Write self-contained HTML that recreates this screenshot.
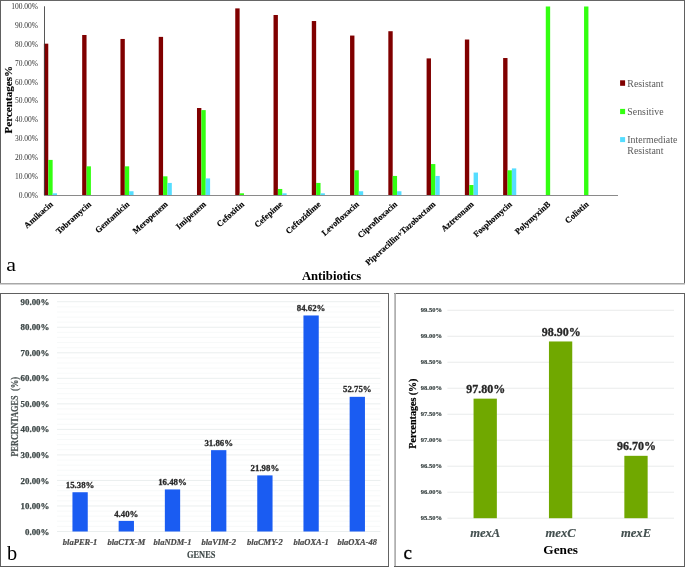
<!DOCTYPE html>
<html><head><meta charset="utf-8"><style>
html,body{margin:0;padding:0;background:#fff;}
body{width:685px;height:567px;overflow:hidden;}
svg{display:block;will-change:transform;}
text{font-family:"Liberation Serif",serif;}
</style></head><body>
<svg width="685" height="567" viewBox="0 0 685 567">
<rect x="0" y="0" width="685" height="567" fill="#fff"/>
<line x1="0.00" y1="0.50" x2="685.00" y2="0.50" stroke="#666" stroke-width="1"/>
<line x1="0.50" y1="0.00" x2="0.50" y2="284.00" stroke="#606060" stroke-width="1"/>
<line x1="684.50" y1="0.00" x2="684.50" y2="284.00" stroke="#606060" stroke-width="1"/>
<line x1="0.00" y1="283.80" x2="685.00" y2="283.80" stroke="#a8a8a8" stroke-width="1.6"/>
<text id="at0" x="38.00" y="197.80" font-size="7.5" fill="#333" font-weight="normal" font-style="normal" text-anchor="end" >0.00%</text>
<text id="at1" x="38.00" y="178.93" font-size="7.5" fill="#333" font-weight="normal" font-style="normal" text-anchor="end" >10.00%</text>
<text id="at2" x="38.00" y="160.06" font-size="7.5" fill="#333" font-weight="normal" font-style="normal" text-anchor="end" >20.00%</text>
<text id="at3" x="38.00" y="141.19" font-size="7.5" fill="#333" font-weight="normal" font-style="normal" text-anchor="end" >30.00%</text>
<text id="at4" x="38.00" y="122.32" font-size="7.5" fill="#333" font-weight="normal" font-style="normal" text-anchor="end" >40.00%</text>
<text id="at5" x="38.00" y="103.45" font-size="7.5" fill="#333" font-weight="normal" font-style="normal" text-anchor="end" >50.00%</text>
<text id="at6" x="38.00" y="84.58" font-size="7.5" fill="#333" font-weight="normal" font-style="normal" text-anchor="end" >60.00%</text>
<text id="at7" x="38.00" y="65.71" font-size="7.5" fill="#333" font-weight="normal" font-style="normal" text-anchor="end" >70.00%</text>
<text id="at8" x="38.00" y="46.84" font-size="7.5" fill="#333" font-weight="normal" font-style="normal" text-anchor="end" >80.00%</text>
<text id="at9" x="38.00" y="27.97" font-size="7.5" fill="#333" font-weight="normal" font-style="normal" text-anchor="end" >90.00%</text>
<text id="at10" x="38.00" y="9.10" font-size="7.5" fill="#333" font-weight="normal" font-style="normal" text-anchor="end" >100.00%</text>
<rect x="43.90" y="43.67" width="4.37" height="151.53" fill="#800000"/>
<rect x="48.27" y="159.91" width="4.37" height="35.29" fill="#33ff11"/>
<rect x="52.64" y="193.31" width="4.37" height="1.89" fill="#55ddff"/>
<text id="xl0" x="0" y="0" font-size="8.5" font-weight="bold" fill="#000" stroke="#000" stroke-width="0.15" text-anchor="end" transform="translate(53.40,205.00) rotate(-42)">Amikacin</text>
<rect x="82.17" y="34.99" width="4.37" height="160.21" fill="#800000"/>
<rect x="86.54" y="166.33" width="4.37" height="28.87" fill="#33ff11"/>
<text id="xl1" x="0" y="0" font-size="8.5" font-weight="bold" fill="#000" stroke="#000" stroke-width="0.15" text-anchor="end" transform="translate(91.67,205.00) rotate(-42)">Tobramycin</text>
<rect x="120.44" y="38.96" width="4.37" height="156.24" fill="#800000"/>
<rect x="124.81" y="166.33" width="4.37" height="28.87" fill="#33ff11"/>
<rect x="129.18" y="191.24" width="4.37" height="3.96" fill="#55ddff"/>
<text id="xl2" x="0" y="0" font-size="8.5" font-weight="bold" fill="#000" stroke="#000" stroke-width="0.15" text-anchor="end" transform="translate(129.94,205.00) rotate(-42)">Gentamicin</text>
<rect x="158.71" y="36.88" width="4.37" height="158.32" fill="#800000"/>
<rect x="163.08" y="176.33" width="4.37" height="18.87" fill="#33ff11"/>
<rect x="167.45" y="182.93" width="4.37" height="12.27" fill="#55ddff"/>
<text id="xl3" x="0" y="0" font-size="8.5" font-weight="bold" fill="#000" stroke="#000" stroke-width="0.15" text-anchor="end" transform="translate(168.21,205.00) rotate(-42)">Meropenem</text>
<rect x="196.98" y="108.02" width="4.37" height="87.18" fill="#800000"/>
<rect x="201.35" y="110.10" width="4.37" height="85.10" fill="#33ff11"/>
<rect x="205.72" y="178.41" width="4.37" height="16.79" fill="#55ddff"/>
<text id="xl4" x="0" y="0" font-size="8.5" font-weight="bold" fill="#000" stroke="#000" stroke-width="0.15" text-anchor="end" transform="translate(206.48,205.00) rotate(-42)">Imipenem</text>
<rect x="235.25" y="8.39" width="4.37" height="186.81" fill="#800000"/>
<rect x="239.62" y="193.31" width="4.37" height="1.89" fill="#33ff11"/>
<text id="xl5" x="0" y="0" font-size="8.5" font-weight="bold" fill="#000" stroke="#000" stroke-width="0.15" text-anchor="end" transform="translate(244.75,205.00) rotate(-42)">Cefoxitin</text>
<rect x="273.52" y="14.99" width="4.37" height="180.21" fill="#800000"/>
<rect x="277.89" y="188.97" width="4.37" height="6.23" fill="#33ff11"/>
<rect x="282.26" y="193.31" width="4.37" height="1.89" fill="#55ddff"/>
<text id="xl6" x="0" y="0" font-size="8.5" font-weight="bold" fill="#000" stroke="#000" stroke-width="0.15" text-anchor="end" transform="translate(283.02,205.00) rotate(-42)">Cefepime</text>
<rect x="311.79" y="21.03" width="4.37" height="174.17" fill="#800000"/>
<rect x="316.16" y="182.93" width="4.37" height="12.27" fill="#33ff11"/>
<rect x="320.53" y="193.31" width="4.37" height="1.89" fill="#55ddff"/>
<text id="xl7" x="0" y="0" font-size="8.5" font-weight="bold" fill="#000" stroke="#000" stroke-width="0.15" text-anchor="end" transform="translate(321.29,205.00) rotate(-42)">Ceftazidime</text>
<rect x="350.06" y="35.56" width="4.37" height="159.64" fill="#800000"/>
<rect x="354.43" y="170.29" width="4.37" height="24.91" fill="#33ff11"/>
<rect x="358.80" y="191.24" width="4.37" height="3.96" fill="#55ddff"/>
<text id="xl8" x="0" y="0" font-size="8.5" font-weight="bold" fill="#000" stroke="#000" stroke-width="0.15" text-anchor="end" transform="translate(359.56,205.00) rotate(-42)">Levofloxacin</text>
<rect x="388.33" y="31.22" width="4.37" height="163.98" fill="#800000"/>
<rect x="392.70" y="175.95" width="4.37" height="19.25" fill="#33ff11"/>
<rect x="397.07" y="191.24" width="4.37" height="3.96" fill="#55ddff"/>
<text id="xl9" x="0" y="0" font-size="8.5" font-weight="bold" fill="#000" stroke="#000" stroke-width="0.15" text-anchor="end" transform="translate(397.83,205.00) rotate(-42)">Ciprofloxacin</text>
<rect x="426.60" y="58.39" width="4.37" height="136.81" fill="#800000"/>
<rect x="430.97" y="164.06" width="4.37" height="31.14" fill="#33ff11"/>
<rect x="435.34" y="175.95" width="4.37" height="19.25" fill="#55ddff"/>
<text id="xl10" x="0" y="0" font-size="8.5" font-weight="bold" fill="#000" stroke="#000" stroke-width="0.15" text-anchor="end" transform="translate(436.10,205.00) rotate(-42)">Piperacillin+Tazobactam</text>
<rect x="464.87" y="39.52" width="4.37" height="155.68" fill="#800000"/>
<rect x="469.24" y="185.01" width="4.37" height="10.19" fill="#33ff11"/>
<rect x="473.61" y="172.56" width="4.37" height="22.64" fill="#55ddff"/>
<text id="xl11" x="0" y="0" font-size="8.5" font-weight="bold" fill="#000" stroke="#000" stroke-width="0.15" text-anchor="end" transform="translate(474.37,205.00) rotate(-42)">Aztreonam</text>
<rect x="503.14" y="58.02" width="4.37" height="137.18" fill="#800000"/>
<rect x="507.51" y="170.29" width="4.37" height="24.91" fill="#33ff11"/>
<rect x="511.88" y="168.40" width="4.37" height="26.80" fill="#55ddff"/>
<text id="xl12" x="0" y="0" font-size="8.5" font-weight="bold" fill="#000" stroke="#000" stroke-width="0.15" text-anchor="end" transform="translate(512.64,205.00) rotate(-42)">Fosphomycin</text>
<rect x="545.78" y="6.50" width="4.37" height="188.70" fill="#33ff11"/>
<text id="xl13" x="0" y="0" font-size="8.5" font-weight="bold" fill="#000" stroke="#000" stroke-width="0.15" text-anchor="end" transform="translate(550.91,205.00) rotate(-42)">PolymyxinB</text>
<rect x="584.05" y="6.50" width="4.37" height="188.70" fill="#33ff11"/>
<text id="xl14" x="0" y="0" font-size="8.5" font-weight="bold" fill="#000" stroke="#000" stroke-width="0.15" text-anchor="end" transform="translate(589.18,205.00) rotate(-42)">Colistin</text>
<line x1="44.50" y1="6.30" x2="44.50" y2="195.50" stroke="#444" stroke-width="0.9"/>
<line x1="44.00" y1="195.50" x2="618.00" y2="195.50" stroke="#8a8a8a" stroke-width="1"/>
<text id="atitle" x="331.50" y="280.00" font-size="12.7" fill="#000" font-weight="bold" font-style="normal" text-anchor="middle" >Antibiotics</text>
<text id="aytitle" x="0" y="0" font-size="11.1" font-weight="bold" fill="#000" stroke="#000" stroke-width="0.15" text-anchor="middle" transform="translate(11.6,99.7) rotate(-90)">Percentages%</text>
<text id="alab" x="0" y="0" font-size="20" fill="#000" transform="translate(6.3,271) scale(1.1,0.96)">a</text>
<rect x="620.10" y="80.30" width="5.00" height="5.50" fill="#800000"/>
<text id="lg0" x="627.30" y="87.00" font-size="9.85" fill="#5a5a5a" font-weight="normal" font-style="normal" text-anchor="start"  letter-spacing="0.02">Resistant</text>
<rect x="620.10" y="108.90" width="5.00" height="5.20" fill="#33ff11"/>
<text id="lg1" x="627.30" y="115.10" font-size="9.85" fill="#5a5a5a" font-weight="normal" font-style="normal" text-anchor="start"  letter-spacing="0.02">Sensitive</text>
<rect x="620.10" y="137.10" width="5.00" height="5.00" fill="#55ddff"/>
<text id="lg2" x="627.30" y="143.20" font-size="9.85" fill="#5a5a5a" font-weight="normal" font-style="normal" text-anchor="start"  letter-spacing="0.02">Intermediate</text>
<text id="lg3" x="627.30" y="154.20" font-size="9.85" fill="#5a5a5a" font-weight="normal" font-style="normal" text-anchor="start"  letter-spacing="0.02">Resistant</text>
<line x1="0.00" y1="293.50" x2="389.00" y2="293.50" stroke="#606060" stroke-width="1"/>
<line x1="0.50" y1="293.00" x2="0.50" y2="567.00" stroke="#606060" stroke-width="1"/>
<line x1="388.50" y1="293.00" x2="388.50" y2="567.00" stroke="#646464" stroke-width="1"/>
<line x1="0.00" y1="566.50" x2="389.00" y2="566.50" stroke="#5a5a5a" stroke-width="1"/>
<line x1="57.00" y1="526.39" x2="380.40" y2="526.39" stroke="#f6f8f8" stroke-width="0.9"/>
<line x1="57.00" y1="521.29" x2="380.40" y2="521.29" stroke="#f6f8f8" stroke-width="0.9"/>
<line x1="57.00" y1="516.18" x2="380.40" y2="516.18" stroke="#f6f8f8" stroke-width="0.9"/>
<line x1="57.00" y1="511.08" x2="380.40" y2="511.08" stroke="#f6f8f8" stroke-width="0.9"/>
<line x1="57.00" y1="500.86" x2="380.40" y2="500.86" stroke="#f6f8f8" stroke-width="0.9"/>
<line x1="57.00" y1="495.76" x2="380.40" y2="495.76" stroke="#f6f8f8" stroke-width="0.9"/>
<line x1="57.00" y1="490.65" x2="380.40" y2="490.65" stroke="#f6f8f8" stroke-width="0.9"/>
<line x1="57.00" y1="485.55" x2="380.40" y2="485.55" stroke="#f6f8f8" stroke-width="0.9"/>
<line x1="57.00" y1="475.33" x2="380.40" y2="475.33" stroke="#f6f8f8" stroke-width="0.9"/>
<line x1="57.00" y1="470.23" x2="380.40" y2="470.23" stroke="#f6f8f8" stroke-width="0.9"/>
<line x1="57.00" y1="465.12" x2="380.40" y2="465.12" stroke="#f6f8f8" stroke-width="0.9"/>
<line x1="57.00" y1="460.02" x2="380.40" y2="460.02" stroke="#f6f8f8" stroke-width="0.9"/>
<line x1="57.00" y1="449.80" x2="380.40" y2="449.80" stroke="#f6f8f8" stroke-width="0.9"/>
<line x1="57.00" y1="444.70" x2="380.40" y2="444.70" stroke="#f6f8f8" stroke-width="0.9"/>
<line x1="57.00" y1="439.59" x2="380.40" y2="439.59" stroke="#f6f8f8" stroke-width="0.9"/>
<line x1="57.00" y1="434.49" x2="380.40" y2="434.49" stroke="#f6f8f8" stroke-width="0.9"/>
<line x1="57.00" y1="424.27" x2="380.40" y2="424.27" stroke="#f6f8f8" stroke-width="0.9"/>
<line x1="57.00" y1="419.17" x2="380.40" y2="419.17" stroke="#f6f8f8" stroke-width="0.9"/>
<line x1="57.00" y1="414.06" x2="380.40" y2="414.06" stroke="#f6f8f8" stroke-width="0.9"/>
<line x1="57.00" y1="408.96" x2="380.40" y2="408.96" stroke="#f6f8f8" stroke-width="0.9"/>
<line x1="57.00" y1="398.74" x2="380.40" y2="398.74" stroke="#f6f8f8" stroke-width="0.9"/>
<line x1="57.00" y1="393.64" x2="380.40" y2="393.64" stroke="#f6f8f8" stroke-width="0.9"/>
<line x1="57.00" y1="388.53" x2="380.40" y2="388.53" stroke="#f6f8f8" stroke-width="0.9"/>
<line x1="57.00" y1="383.43" x2="380.40" y2="383.43" stroke="#f6f8f8" stroke-width="0.9"/>
<line x1="57.00" y1="373.21" x2="380.40" y2="373.21" stroke="#f6f8f8" stroke-width="0.9"/>
<line x1="57.00" y1="368.11" x2="380.40" y2="368.11" stroke="#f6f8f8" stroke-width="0.9"/>
<line x1="57.00" y1="363.00" x2="380.40" y2="363.00" stroke="#f6f8f8" stroke-width="0.9"/>
<line x1="57.00" y1="357.90" x2="380.40" y2="357.90" stroke="#f6f8f8" stroke-width="0.9"/>
<line x1="57.00" y1="347.68" x2="380.40" y2="347.68" stroke="#f6f8f8" stroke-width="0.9"/>
<line x1="57.00" y1="342.58" x2="380.40" y2="342.58" stroke="#f6f8f8" stroke-width="0.9"/>
<line x1="57.00" y1="337.47" x2="380.40" y2="337.47" stroke="#f6f8f8" stroke-width="0.9"/>
<line x1="57.00" y1="332.37" x2="380.40" y2="332.37" stroke="#f6f8f8" stroke-width="0.9"/>
<line x1="57.00" y1="322.15" x2="380.40" y2="322.15" stroke="#f6f8f8" stroke-width="0.9"/>
<line x1="57.00" y1="317.05" x2="380.40" y2="317.05" stroke="#f6f8f8" stroke-width="0.9"/>
<line x1="57.00" y1="311.94" x2="380.40" y2="311.94" stroke="#f6f8f8" stroke-width="0.9"/>
<line x1="57.00" y1="306.84" x2="380.40" y2="306.84" stroke="#f6f8f8" stroke-width="0.9"/>
<line x1="57.00" y1="531.50" x2="380.40" y2="531.50" stroke="#e8ecec" stroke-width="0.9"/>
<text id="bt0" x="49.40" y="534.60" font-size="8.9" fill="#3d4747" font-weight="bold" font-style="normal" text-anchor="end"  stroke="#3d4747" stroke-width="0.25">0.00%</text>
<line x1="57.00" y1="505.97" x2="380.40" y2="505.97" stroke="#e8ecec" stroke-width="0.9"/>
<text id="bt1" x="49.40" y="509.07" font-size="8.9" fill="#3d4747" font-weight="bold" font-style="normal" text-anchor="end"  stroke="#3d4747" stroke-width="0.25">10.00%</text>
<line x1="57.00" y1="480.44" x2="380.40" y2="480.44" stroke="#e8ecec" stroke-width="0.9"/>
<text id="bt2" x="49.40" y="483.54" font-size="8.9" fill="#3d4747" font-weight="bold" font-style="normal" text-anchor="end"  stroke="#3d4747" stroke-width="0.25">20.00%</text>
<line x1="57.00" y1="454.91" x2="380.40" y2="454.91" stroke="#e8ecec" stroke-width="0.9"/>
<text id="bt3" x="49.40" y="458.01" font-size="8.9" fill="#3d4747" font-weight="bold" font-style="normal" text-anchor="end"  stroke="#3d4747" stroke-width="0.25">30.00%</text>
<line x1="57.00" y1="429.38" x2="380.40" y2="429.38" stroke="#e8ecec" stroke-width="0.9"/>
<text id="bt4" x="49.40" y="432.48" font-size="8.9" fill="#3d4747" font-weight="bold" font-style="normal" text-anchor="end"  stroke="#3d4747" stroke-width="0.25">40.00%</text>
<line x1="57.00" y1="403.85" x2="380.40" y2="403.85" stroke="#e8ecec" stroke-width="0.9"/>
<text id="bt5" x="49.40" y="406.95" font-size="8.9" fill="#3d4747" font-weight="bold" font-style="normal" text-anchor="end"  stroke="#3d4747" stroke-width="0.25">50.00%</text>
<line x1="57.00" y1="378.32" x2="380.40" y2="378.32" stroke="#e8ecec" stroke-width="0.9"/>
<text id="bt6" x="49.40" y="381.42" font-size="8.9" fill="#3d4747" font-weight="bold" font-style="normal" text-anchor="end"  stroke="#3d4747" stroke-width="0.25">60.00%</text>
<line x1="57.00" y1="352.79" x2="380.40" y2="352.79" stroke="#e8ecec" stroke-width="0.9"/>
<text id="bt7" x="49.40" y="355.89" font-size="8.9" fill="#3d4747" font-weight="bold" font-style="normal" text-anchor="end"  stroke="#3d4747" stroke-width="0.25">70.00%</text>
<line x1="57.00" y1="327.26" x2="380.40" y2="327.26" stroke="#e8ecec" stroke-width="0.9"/>
<text id="bt8" x="49.40" y="330.36" font-size="8.9" fill="#3d4747" font-weight="bold" font-style="normal" text-anchor="end"  stroke="#3d4747" stroke-width="0.25">80.00%</text>
<line x1="57.00" y1="301.73" x2="380.40" y2="301.73" stroke="#e8ecec" stroke-width="0.9"/>
<text id="bt9" x="49.40" y="304.83" font-size="8.9" fill="#3d4747" font-weight="bold" font-style="normal" text-anchor="end"  stroke="#3d4747" stroke-width="0.25">90.00%</text>
<rect x="72.45" y="492.23" width="15.30" height="39.27" fill="#1a5cf2"/>
<text id="bv0" x="80.10" y="487.83" font-size="8.8" fill="#2a2a2a" font-weight="bold" font-style="normal" text-anchor="middle"  stroke="#2a2a2a" stroke-width="0.3">15.38%</text>
<text id="bc0" x="80.10" y="544.90" font-size="8.5" fill="#4a4a4a" font-weight="bold" font-style="italic" text-anchor="middle"  stroke="#4a4a4a" stroke-width="0.2">blaPER-1</text>
<rect x="118.65" y="520.90" width="15.30" height="10.60" fill="#1a5cf2"/>
<text id="bv1" x="126.30" y="516.50" font-size="8.8" fill="#2a2a2a" font-weight="bold" font-style="normal" text-anchor="middle"  stroke="#2a2a2a" stroke-width="0.3">4.40%</text>
<text id="bc1" x="126.30" y="544.90" font-size="8.5" fill="#4a4a4a" font-weight="bold" font-style="italic" text-anchor="middle"  stroke="#4a4a4a" stroke-width="0.2">blaCTX-M</text>
<rect x="164.85" y="489.43" width="15.30" height="42.07" fill="#1a5cf2"/>
<text id="bv2" x="172.50" y="485.03" font-size="8.8" fill="#2a2a2a" font-weight="bold" font-style="normal" text-anchor="middle"  stroke="#2a2a2a" stroke-width="0.3">16.48%</text>
<text id="bc2" x="172.50" y="544.90" font-size="8.5" fill="#4a4a4a" font-weight="bold" font-style="italic" text-anchor="middle"  stroke="#4a4a4a" stroke-width="0.2">blaNDM-1</text>
<rect x="211.05" y="450.16" width="15.30" height="81.34" fill="#1a5cf2"/>
<text id="bv3" x="218.70" y="445.76" font-size="8.8" fill="#2a2a2a" font-weight="bold" font-style="normal" text-anchor="middle"  stroke="#2a2a2a" stroke-width="0.3">31.86%</text>
<text id="bc3" x="218.70" y="544.90" font-size="8.5" fill="#4a4a4a" font-weight="bold" font-style="italic" text-anchor="middle"  stroke="#4a4a4a" stroke-width="0.2">blaVIM-2</text>
<rect x="257.25" y="475.39" width="15.30" height="56.11" fill="#1a5cf2"/>
<text id="bv4" x="264.90" y="470.99" font-size="8.8" fill="#2a2a2a" font-weight="bold" font-style="normal" text-anchor="middle"  stroke="#2a2a2a" stroke-width="0.3">21.98%</text>
<text id="bc4" x="264.90" y="544.90" font-size="8.5" fill="#4a4a4a" font-weight="bold" font-style="italic" text-anchor="middle"  stroke="#4a4a4a" stroke-width="0.2">blaCMY-2</text>
<rect x="303.45" y="315.47" width="15.30" height="216.03" fill="#1a5cf2"/>
<text id="bv5" x="311.10" y="311.07" font-size="8.8" fill="#2a2a2a" font-weight="bold" font-style="normal" text-anchor="middle"  stroke="#2a2a2a" stroke-width="0.3">84.62%</text>
<text id="bc5" x="311.10" y="544.90" font-size="8.5" fill="#4a4a4a" font-weight="bold" font-style="italic" text-anchor="middle"  stroke="#4a4a4a" stroke-width="0.2">blaOXA-1</text>
<rect x="349.65" y="396.83" width="15.30" height="134.67" fill="#1a5cf2"/>
<text id="bv6" x="357.30" y="392.43" font-size="8.8" fill="#2a2a2a" font-weight="bold" font-style="normal" text-anchor="middle"  stroke="#2a2a2a" stroke-width="0.3">52.75%</text>
<text id="bc6" x="357.30" y="544.90" font-size="8.5" fill="#4a4a4a" font-weight="bold" font-style="italic" text-anchor="middle"  stroke="#4a4a4a" stroke-width="0.2">blaOXA-48</text>
<text id="bxt" x="187.0" y="557.6" font-size="9.6" fill="#3d4747" font-weight="bold" stroke="#3d4747" stroke-width="0.15" textLength="28.4" lengthAdjust="spacingAndGlyphs">GENES</text>
<g id="byt" transform="translate(18.3,0) rotate(-90)" font-size="9.8" fill="#4a5252" font-weight="bold" stroke="#4a5252" stroke-width="0.2"><text x="-456.6" y="0" textLength="61.2" lengthAdjust="spacingAndGlyphs">PERCENTAGES</text><text x="-391.0" y="0" textLength="14.2" lengthAdjust="spacingAndGlyphs">(%)</text></g>
<text id="blab" x="6.90" y="559.50" font-size="20.3" fill="#000" font-weight="normal" font-style="normal" text-anchor="start" >b</text>
<line x1="394.00" y1="293.50" x2="685.00" y2="293.50" stroke="#606060" stroke-width="1"/>
<line x1="395.10" y1="293.00" x2="395.10" y2="567.00" stroke="#a8a8a8" stroke-width="1.6"/>
<line x1="684.50" y1="293.00" x2="684.50" y2="567.00" stroke="#606060" stroke-width="1"/>
<line x1="394.00" y1="566.50" x2="685.00" y2="566.50" stroke="#5a5a5a" stroke-width="1"/>
<line x1="447.40" y1="518.20" x2="674.00" y2="518.20" stroke="#e6e9e9" stroke-width="0.9"/>
<text id="ct0" x="441.90" y="520.40" font-size="6.5" fill="#3d4747" font-weight="bold" font-style="normal" text-anchor="end"  stroke="#3d4747" stroke-width="0.2">95.50%</text>
<line x1="447.40" y1="492.21" x2="674.00" y2="492.21" stroke="#e6e9e9" stroke-width="0.9"/>
<text id="ct1" x="441.90" y="494.41" font-size="6.5" fill="#3d4747" font-weight="bold" font-style="normal" text-anchor="end"  stroke="#3d4747" stroke-width="0.2">96.00%</text>
<line x1="447.40" y1="466.22" x2="674.00" y2="466.22" stroke="#e6e9e9" stroke-width="0.9"/>
<text id="ct2" x="441.90" y="468.42" font-size="6.5" fill="#3d4747" font-weight="bold" font-style="normal" text-anchor="end"  stroke="#3d4747" stroke-width="0.2">96.50%</text>
<line x1="447.40" y1="440.23" x2="674.00" y2="440.23" stroke="#e6e9e9" stroke-width="0.9"/>
<text id="ct3" x="441.90" y="442.43" font-size="6.5" fill="#3d4747" font-weight="bold" font-style="normal" text-anchor="end"  stroke="#3d4747" stroke-width="0.2">97.00%</text>
<line x1="447.40" y1="414.24" x2="674.00" y2="414.24" stroke="#e6e9e9" stroke-width="0.9"/>
<text id="ct4" x="441.90" y="416.44" font-size="6.5" fill="#3d4747" font-weight="bold" font-style="normal" text-anchor="end"  stroke="#3d4747" stroke-width="0.2">97.50%</text>
<line x1="447.40" y1="388.25" x2="674.00" y2="388.25" stroke="#e6e9e9" stroke-width="0.9"/>
<text id="ct5" x="441.90" y="390.45" font-size="6.5" fill="#3d4747" font-weight="bold" font-style="normal" text-anchor="end"  stroke="#3d4747" stroke-width="0.2">98.00%</text>
<line x1="447.40" y1="362.26" x2="674.00" y2="362.26" stroke="#e6e9e9" stroke-width="0.9"/>
<text id="ct6" x="441.90" y="364.46" font-size="6.5" fill="#3d4747" font-weight="bold" font-style="normal" text-anchor="end"  stroke="#3d4747" stroke-width="0.2">98.50%</text>
<line x1="447.40" y1="336.27" x2="674.00" y2="336.27" stroke="#e6e9e9" stroke-width="0.9"/>
<text id="ct7" x="441.90" y="338.47" font-size="6.5" fill="#3d4747" font-weight="bold" font-style="normal" text-anchor="end"  stroke="#3d4747" stroke-width="0.2">99.00%</text>
<line x1="447.40" y1="310.28" x2="674.00" y2="310.28" stroke="#e6e9e9" stroke-width="0.9"/>
<text id="ct8" x="441.90" y="312.48" font-size="6.5" fill="#3d4747" font-weight="bold" font-style="normal" text-anchor="end"  stroke="#3d4747" stroke-width="0.2">99.50%</text>
<rect x="473.55" y="398.65" width="23.30" height="119.55" fill="#70a800"/>
<text id="cv0" x="485.80" y="393.15" font-size="12" fill="#262626" font-weight="bold" font-style="normal" text-anchor="middle"  stroke="#262626" stroke-width="0.3">97.80%</text>
<text id="cc0" x="485.20" y="536.60" font-size="12.6" fill="#445050" font-weight="bold" font-style="italic" text-anchor="middle"  stroke="#445050" stroke-width="0.15">mexA</text>
<rect x="548.95" y="341.47" width="23.30" height="176.73" fill="#70a800"/>
<text id="cv1" x="561.20" y="335.97" font-size="12" fill="#262626" font-weight="bold" font-style="normal" text-anchor="middle"  stroke="#262626" stroke-width="0.3">98.90%</text>
<text id="cc1" x="560.60" y="536.60" font-size="12.6" fill="#445050" font-weight="bold" font-style="italic" text-anchor="middle"  stroke="#445050" stroke-width="0.15">mexC</text>
<rect x="624.35" y="455.82" width="23.30" height="62.38" fill="#70a800"/>
<text id="cv2" x="636.60" y="450.32" font-size="12" fill="#262626" font-weight="bold" font-style="normal" text-anchor="middle"  stroke="#262626" stroke-width="0.3">96.70%</text>
<text id="cc2" x="636.00" y="536.60" font-size="12.6" fill="#445050" font-weight="bold" font-style="italic" text-anchor="middle"  stroke="#445050" stroke-width="0.15">mexE</text>
<text id="cxt" x="560.70" y="553.70" font-size="13.3" fill="#000" font-weight="bold" font-style="normal" text-anchor="middle" >Genes</text>
<text id="cyt" x="0" y="0" font-size="10" font-weight="bold" fill="#000" stroke="#000" stroke-width="0.2" text-anchor="middle" transform="translate(416.2,413.6) rotate(-90)">Percentages (%)</text>
<text id="clab" x="403.50" y="559.40" font-size="19" fill="#000" font-weight="normal" font-style="normal" text-anchor="start"  stroke="#000" stroke-width="0.3">c</text>
</svg>
</body></html>
